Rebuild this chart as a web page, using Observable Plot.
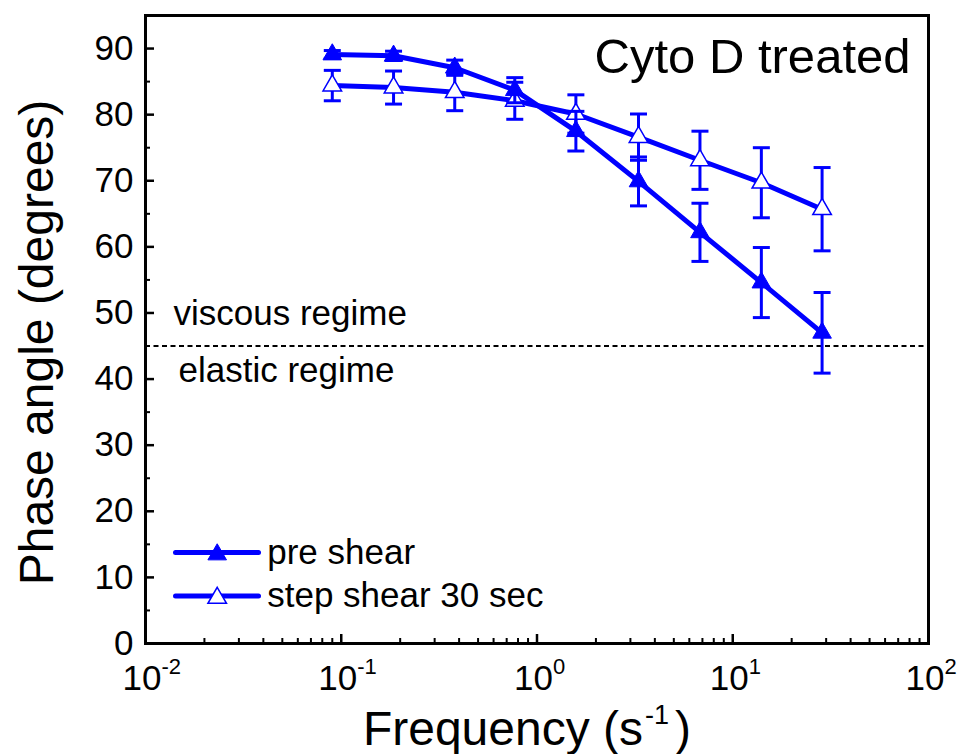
<!DOCTYPE html>
<html>
<head>
<meta charset="utf-8">
<script src="https://cdn.jsdelivr.net/npm/d3@7"></script>
<script src="https://cdn.jsdelivr.net/npm/@observablehq/plot@0.6"></script>
<style>
  html, body { margin: 0; padding: 0; background: #fff; }
  #chart { width: 960px; height: 754px; }
</style>
</head>
<body>
<div id="chart"></div>
<script>
// Oscillation frequency (s^-1)
const frequency = [0.09, 0.185, 0.38, 0.77, 1.58, 3.3, 6.8, 14, 28.6];

// Phase angle (degrees) before shear, with error
const preShear    = [89.1, 88.9, 87.1, 83.7, 77.5, 69.9, 62.2, 54.6, 47.0];
const preShearErr = [0.6, 0.7, 1.15, 1.9, 3.0, 3.7, 4.4, 5.3, 6.1];

// Phase angle (degrees) after a 30 s step shear, with error
const stepShear    = [84.4, 84.1, 83.4, 82.1, 80.1, 76.6, 73.1, 69.7, 65.7];
const stepShearErr = [2.3, 2.5, 2.8, 2.8, 2.9, 3.5, 4.4, 5.3, 6.3];

// Axis ticks and labels
const yTickValues = [0, 10, 20, 30, 40, 50, 60, 70, 80, 90];
const yMinorTicks = [5, 15, 25, 35, 45, 55, 65, 75, 85];
const xTickValues = [0.01, 0.1, 1, 10, 100];
const xTickExponents = ["-2", "-1", "0", "1", "2"];
const xMinorTicks = [0.01, 0.1, 1, 10].flatMap(d => [2, 3, 4, 5, 6, 7, 8, 9].map(k => +(k * d).toPrecision(2)));

const threshold = 45;
const regimeLabels = ["viscous regime", "elastic regime"];
const seriesNames = ["pre shear", "step shear 30 sec"];
const panelTitle = "Cyto D treated";
const yLabel = "Phase angle (degrees)";
const xLabel = ["Frequency (s", "-1", ")"];

const blue = "#0000ff";
const font = "Liberation Sans, Arial, Helvetica, sans-serif";

const rows = (vals, errs) => frequency.map((f, i) => ({f, v: vals[i], e: errs[i]}));
const preRows = rows(preShear, preShearErr);
const stepRows = rows(stepShear, stepShearErr);

const W = 960, H = 754;
const M = {top: 15, right: 32, bottom: 111, left: 145};
const frameW = W - M.left - M.right;
const frameH = H - M.top - M.bottom;

// Horizontal bar used for the error-bar caps
const capSymbol = {
  draw(ctx, size) {
    const h = Math.sqrt(size / Math.PI);
    ctx.moveTo(-h, 0);
    ctx.lineTo(h, 0);
  }
};
// Straight segment used for the legend lines
const segment = {
  draw(ctx, l) {
    ctx.moveTo(0, 0);
    ctx.lineTo(0, -l);
  }
};

function seriesMarks(data, filled) {
  return [
    Plot.ruleX(data, {x: "f", y1: d => d.v - d.e, y2: d => d.v + d.e, stroke: blue, strokeWidth: 3}),
    Plot.dot(data, {x: "f", y: d => d.v + d.e, symbol: capSymbol, r: 8.5, stroke: blue, strokeWidth: 3, fill: "none"}),
    Plot.dot(data, {x: "f", y: d => d.v - d.e, symbol: capSymbol, r: 8.5, stroke: blue, strokeWidth: 3, fill: "none"}),
    Plot.line(data, {x: "f", y: "v", stroke: blue, strokeWidth: 5, strokeLinejoin: "round"}),
    Plot.dot(data, {x: "f", y: "v", symbol: "triangle", r: 6.9, fill: filled ? blue : "white", stroke: blue, strokeWidth: filled ? 1 : 1.5})
  ];
}

function legendMarks(name, i, filled) {
  const dy = -91 + i * 43.5;
  return [
    Plot.vector([name], {frameAnchor: "bottom-left", x: null, y: null, shape: segment, length: 83, rotate: 90, anchor: "start", dx: 30, dy, stroke: blue, strokeWidth: 5}),
    Plot.dot([name], {frameAnchor: "bottom-left", x: null, y: null, symbol: "triangle", r: 6.9, dx: 71.7, dy: dy + 2, fill: filled ? blue : "white", stroke: blue, strokeWidth: filled ? 1 : 1.5}),
    Plot.text([name], {frameAnchor: "bottom-left", text: d => d, textAnchor: "start", lineAnchor: "middle", dx: 121.7, dy, fontSize: 35, fontFamily: font, fill: "black"})
  ];
}

const chart = Plot.plot({
  width: W,
  height: H,
  marginTop: M.top,
  marginRight: M.right,
  marginBottom: M.bottom,
  marginLeft: M.left,
  style: {fontFamily: font, color: "black", background: "white"},
  x: {type: "log", domain: [0.01, 100], axis: null},
  y: {domain: [0, 95]},
  marks: [
    // Viscous / elastic boundary
    Plot.ruleY([threshold], {stroke: "black", strokeWidth: 2, strokeDasharray: "5,3.5"}),
    Plot.text([regimeLabels[0]], {y: [threshold], frameAnchor: "left", text: d => d, textAnchor: "start", lineAnchor: "bottom", dx: 28, dy: -21, fontSize: 35, fontFamily: font, fill: "black"}),
    Plot.text([regimeLabels[1]], {y: [threshold], frameAnchor: "left", text: d => d, textAnchor: "start", lineAnchor: "bottom", dx: 33, dy: 36, fontSize: 35, fontFamily: font, fill: "black"}),

    // Data series
    ...seriesMarks(stepRows, false),
    ...seriesMarks(preRows, true),

    // Inward ticks
    Plot.tickY(yTickValues, {y: d => d, insetRight: frameW - 9, stroke: "black", strokeWidth: 2.5}),
    Plot.tickY(yMinorTicks, {y: d => d, insetRight: frameW - 5, stroke: "black", strokeWidth: 2}),
    Plot.tickX(xTickValues, {x: d => d, insetTop: frameH - 9, stroke: "black", strokeWidth: 2.5}),
    Plot.tickX(xMinorTicks, {x: d => d, insetTop: frameH - 5, stroke: "black", strokeWidth: 2}),

    // Y tick labels
    Plot.axisY({ticks: yTickValues, tickSize: 0, tickPadding: 12, fontSize: 35, fontWeight: "normal", label: null, fill: "black"}),

    // X tick labels: 10 with a superscript exponent
    Plot.text(xTickValues, {x: d => d, frameAnchor: "bottom", text: () => "10", textAnchor: "end", lineAnchor: "bottom", dx: 16, dy: 46, fontSize: 35, fontFamily: font, fill: "black"}),
    Plot.text(xTickValues, {x: d => d, frameAnchor: "bottom", text: (d, i) => xTickExponents[i], textAnchor: "start", lineAnchor: "bottom", dx: 16, dy: 30, fontSize: 22, fontFamily: font, fill: "black"}),

    // Axis titles
    Plot.text([xLabel[0]], {frameAnchor: "bottom", text: d => d, textAnchor: "end", lineAnchor: "bottom", dx: 106, dy: 101, fontSize: 48, fontFamily: font, fill: "black"}),
    Plot.text([xLabel[1]], {frameAnchor: "bottom", text: d => d, textAnchor: "start", lineAnchor: "bottom", dx: 108, dy: 80, fontSize: 27, fontFamily: font, fill: "black"}),
    Plot.text([xLabel[2]], {frameAnchor: "bottom", text: d => d, textAnchor: "start", lineAnchor: "bottom", dx: 138, dy: 101, fontSize: 48, fontFamily: font, fill: "black"}),
    Plot.text([yLabel], {frameAnchor: "left", text: d => d, rotate: -90, textAnchor: "middle", lineAnchor: "bottom", dx: -93, dy: 13, fontSize: 48, fontFamily: font, fill: "black"}),

    // Panel title
    Plot.text([panelTitle], {frameAnchor: "top-right", text: d => d, textAnchor: "end", lineAnchor: "bottom", dx: -18, dy: 57, fontSize: 49, fontFamily: font, fill: "black"}),

    // Legend
    ...legendMarks(seriesNames[0], 0, true),
    ...legendMarks(seriesNames[1], 1, false),

    // Plot frame
    Plot.frame({stroke: "black", strokeWidth: 3})
  ]
});

document.getElementById("chart").appendChild(chart);
</script>
</body>
</html>
